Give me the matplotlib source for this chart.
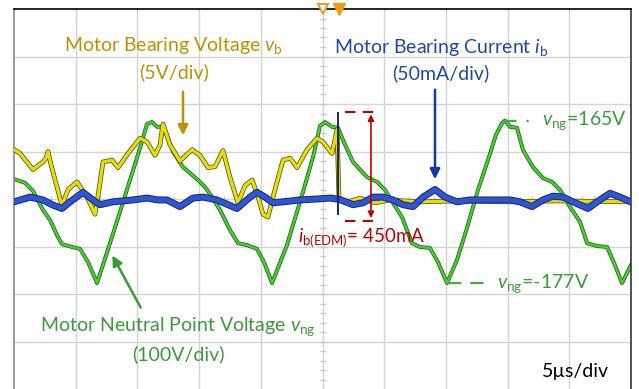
import matplotlib
matplotlib.use('Agg')
import matplotlib.pyplot as plt

plt.rcParams['font.family'] = ['Lato', 'DejaVu Sans']
plt.rcParams['mathtext.fontset'] = 'custom'
plt.rcParams['mathtext.rm'] = 'Lato'
plt.rcParams['mathtext.it'] = 'Lato:italic'

# --- scope traces (time in us) ---
# motor neutral point voltage, V
t_ng = [0.00, 0.89, 1.54, 2.35, 2.92, 3.48, 3.89, 4.70, 5.35, 6.00, 6.73, 7.78, 8.59, 9.40,
        10.21, 10.78, 11.18, 11.59, 12.08, 12.48, 12.89, 13.70, 14.91, 15.48, 16.05, 16.69,
        17.50, 18.15, 18.88, 19.69, 20.26, 20.91, 22.12, 23.42, 24.23, 24.80, 25.20, 25.77,
        26.26, 26.66, 27.47, 28.61, 29.42, 30.07, 30.71, 31.44, 32.25, 32.90, 33.71, 34.36,
        35.09, 35.90, 36.71, 37.60, 38.41, 39.06, 39.55, 39.79, 40.20, 40.76, 41.25, 42.06,
        42.87, 43.60, 44.25, 45.06, 45.87, 46.44, 47.25, 48.06, 48.70, 49.27, 50.00]
v_ng = [42, 34, 17, -23, -44, -76, -95, -101, -105, -133, -177, -93, -27, 40,
        107, 158, 162, 152, 152, 128, 99, 67, 40, 25, 4, -23,
        -65, -93, -97, -105, -133, -177, -97, 15, 88, 154, 162, 152,
        150, 124, 78, 46, 36, 19, -8, -38, -93, -101, -103, -133,
        -177, -128, -61, 19, 82, 135, 160, 165, 152, 150, 103, 67,
        44, 36, 19, -17, -48, -93, -99, -101, -139, -177, -139]

# motor bearing voltage, V
t_b = [0, 0.49, 1.54, 2.35, 2.59, 2.76, 3.00, 3.89, 4.38, 5.11, 5.92, 6.56, 6.81, 7.21,
       7.94, 8.43, 9.24, 10.21, 10.78, 11.43, 11.83, 12.08, 12.64, 13.45, 14.43, 15.07,
       15.72, 16.29, 16.94, 17.50, 18.15, 18.72, 19.29, 19.69, 20.18, 20.58, 21.15, 21.80,
       22.37, 22.94, 23.75, 24.56, 25.04, 25.77, 26.18, 26.34, 26.82, 28.04, 29.26, 30.47,
       32.90, 36.0, 40.0, 44.0, 50.0]
v_b = [5.2, 4.8, 3.1, 3.9, 4.3, 5.0, 3.6, -0.7, 1.0, 1.8, 0.2, -1.6, 0.3, 3.9,
       4.1, 3.3, 4.8, 6.4, 6.0, 4.6, 5.7, 7.9, 5.7, 4.0, 5.2, 4.6,
       3.3, 3.4, 5.1, 2.3, -0.4, 1.4, 2.0, 0.6, -1.6, -1.9, 1.0, 4.1,
       4.3, 3.3, 5.2, 6.4, 6.0, 4.8, 7.3, -0.1, -0.4, 0.1, -0.4, -0.1,
       -0.3, -0.2, -0.3, -0.2, -0.3]

# motor bearing current, mA
t_i = [0, 1.30, 2.35, 3.08, 3.89, 4.54, 5.59, 6.40, 6.97, 8.02, 9.64, 10.78, 11.67, 12.40,
       13.45, 14.51, 15.32, 16.45, 18.07, 19.13, 19.69, 20.34, 20.99, 21.80, 23.18, 24.56,
       25.61, 26.18, 26.50, 27.47, 28.28, 29.09, 29.90, 30.71, 31.52, 32.34, 33.15, 34.12,
       34.93, 35.90, 36.95, 38.57, 40.20, 41.00, 41.98, 42.87, 43.68, 44.49, 45.30, 46.52,
       47.25, 48.30, 49.11, 50.00]
i_b = [-3, 2, -1, -6, -10, -3, 7, -1, -6, -3, -1, 1, -1, -1,
       -8, 1, 2, -1, -10, 2, 7, 2, -4, -3, -1, 0,
       1, 0, -1, -6, -4, 2, 2, -1, -6, -8, 2, 10,
       2, -3, -1, -1, -1, -3, -8, -1, 3, 2, -3, -10,
       -3, 6, 2, -3]

# EDM discharge spike
t_edm = 26.26
i_edm = [-17, 92]
i_edm_floor = -23
vng_max = 165
vng_min = -177

# volts / mA per division
div_ng, div_b, div_i = 100, 5, 50

fig = plt.figure(figsize=(6.39, 3.89), dpi=100)
ax = fig.add_axes([14 / 639, 0, 617 / 639, 380 / 389])
ax.set_xlim(0, 50)
ax.set_ylim(-4, 4)

# graticule
for k in range(1, 10):
    ax.axvline(k * 5, color='#d3d3d3', lw=1.0, zorder=0)
for k in range(-3, 4):
    ax.axhline(k, color='#d3d3d3', lw=1.0, zorder=0)
ax.plot([25] * 39, [k * 0.2 for k in range(-19, 20)], ls='none', marker='_',
        ms=5, color='#c8c8c8', mew=1, zorder=0)
ax.plot([k * 1.0 for k in range(1, 50)], [0] * 49, ls='none', marker='|',
        ms=5, color='#c8c8c8', mew=1, zorder=0)
ax.set_xticks([])
ax.set_yticks([])
ax.spines['bottom'].set_visible(False)
ax.spines['left'].set_color('#8a8a8a')
ax.spines['top'].set_color('black')
ax.spines['right'].set_color('#333333')
for s in ['left', 'top', 'right']:
    ax.spines[s].set_linewidth(1.2)

# traces
y_ng = [v / div_ng for v in v_ng]
y_b = [v / div_b for v in v_b]
y_i = [v / div_i for v in i_b]
ax.plot(t_ng, y_ng, color='#1f5a14', lw=2.8, zorder=2)
ax.plot(t_ng, y_ng, color='#45cc30', lw=1.8, zorder=2)
ax.plot(t_b, y_b, color='#55550c', lw=3.4, zorder=3)
ax.plot(t_b, y_b, color='#e6dc10', lw=2.3, zorder=3)
ax.plot(t_i, y_i, color='#17246e', lw=5.0, zorder=4)
ax.plot(t_i, y_i, color='#2f56d2', lw=3.6, zorder=4)
ax.vlines(t_edm, i_edm[0] / div_i, i_edm[1] / div_i, color='#1a2660', lw=1.4, zorder=5)

# trigger markers
ax.plot([25.04], [4], marker='v', ms=7, mfc='white', mec='#f39a1c', mew=1.4,
        clip_on=False, zorder=6)
ax.plot([26.34], [4], marker='v', ms=8, color='#f39a1c', clip_on=False, zorder=6)

# peak/trough markers for v_ng
green_txt = '#3c9a3c'
ax.plot([39.55, 41.98], [vng_max / div_ng] * 2, color='#4aa64a', lw=1.6,
        dashes=(6.5, 4.5, 1, 4.5), zorder=5)
ax.text(42.79, vng_max / div_ng, r'$v_{\mathrm{ng}}$=165V', color=green_txt,
        fontsize=14, va='center', ha='left')
ax.plot([35.17, 38.74], [vng_min / div_ng] * 2, color='#4aa64a', lw=1.6,
        dashes=(6, 4), zorder=5)
ax.text(39.14, vng_min / div_ng, r'$v_{\mathrm{ng}}$=-177V', color=green_txt,
        fontsize=14, va='center', ha='left')

# discharge current amplitude
red = '#c00000'
ax.plot([26.82, 29.17], [i_edm[1] / div_i] * 2, color=red, lw=1.5, dashes=(5, 3.5), zorder=5)
ax.plot([26.82, 29.17], [i_edm_floor / div_i] * 2, color=red, lw=1.5, dashes=(5, 3.5), zorder=5)
ax.annotate('', xy=(28.93, i_edm[1] / div_i), xytext=(28.93, i_edm_floor / div_i),
            arrowprops=dict(arrowstyle='<|-|>', color=red, lw=1.2, mutation_scale=9),
            zorder=6)
ax.text(23.0, -0.82, r'$i_{\mathrm{b(EDM)}}$= 450mA', color=red, fontsize=13.5,
        va='center', ha='left')

# channel labels
gold = '#bf9000'
blue_txt = '#1f4aa0'
fig.text(174 / 639, 1 - 46 / 389, r'Motor Bearing Voltage $v_{\mathrm{b}}$', color=gold,
         fontsize=14, ha='center', va='center')
fig.text(174 / 639, 1 - 72 / 389, '(5V/div)', color=gold, fontsize=14, ha='center', va='center')
ax.annotate('', xy=(183, 389 - 138), xytext=(183, 389 - 89), xycoords='figure pixels',
            arrowprops=dict(arrowstyle='-|>', color=gold, lw=1.8, mutation_scale=15))

fig.text(441 / 639, 1 - 47 / 389, r'Motor Bearing Current $i_{\mathrm{b}}$', color=blue_txt,
         fontsize=14, ha='center', va='center')
fig.text(441 / 639, 1 - 73 / 389, '(50mA/div)', color=blue_txt, fontsize=14,
         ha='center', va='center')
ax.annotate('', xy=(435, 389 - 182), xytext=(435, 389 - 87), xycoords='figure pixels',
            arrowprops=dict(arrowstyle='-|>', color='#0f3c9c', lw=1.8, mutation_scale=15))

fig.text(178 / 639, 1 - 327 / 389, r'Motor Neutral Point Voltage $v_{\mathrm{ng}}$',
         color=green_txt, fontsize=14, ha='center', va='center')
fig.text(178 / 639, 1 - 354 / 389, '(100V/div)', color=green_txt, fontsize=14,
         ha='center', va='center')
ax.annotate('', xy=(111, 389 - 253), xytext=(142, 389 - 310), xycoords='figure pixels',
            arrowprops=dict(arrowstyle='-|>', color='#3a9a3a', lw=1.8, mutation_scale=15))

fig.text(575 / 639, 1 - 371 / 389, '5µs/div', color='black', fontsize=14,
         ha='center', va='center')

fig.savefig('out.png', dpi=100)
